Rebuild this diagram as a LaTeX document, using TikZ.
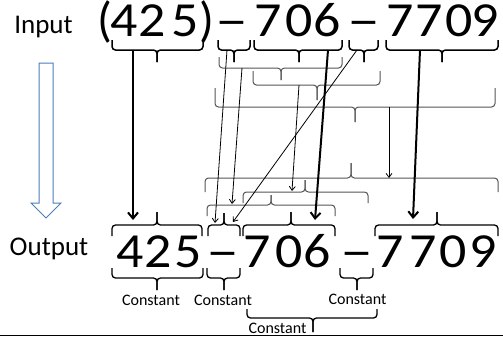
\documentclass[tikz,border=0pt]{standalone}
\usepackage{fontspec}
\setmainfont{Carlito}
\usepackage{graphicx}
\usetikzlibrary{arrows.meta}
\definecolor{brgray}{RGB}{85,85,85}
\definecolor{arrblue}{RGB}{74,126,187}
% brace: [style] x1 x2 yline yends xtip ytip
\newcommand{\pbr}[7][]{%
  \draw[rounded corners=3.5pt,#1] (#2,#5) -- (#2,#4) -- (#6,#4) -- (#6,#7);
  \draw[rounded corners=3.5pt,#1] (#6,#7) -- (#6,#4) -- (#3,#4) -- (#3,#5);}
\newcommand{\dg}[1]{\scalebox{1.1}[1]{#1}}
\newcommand{\mn}{\scalebox{1.35}[1]{–}}
\tikzset{
  bigch/.style={font=\fontsize{49}{49}\selectfont, inner sep=0pt, anchor=base},
  lbl/.style={font=\fontsize{27}{27}\selectfont, inner sep=0pt, anchor=base},
  cst/.style={font=\fontsize{16}{16}\selectfont, inner sep=0pt},
  topbr/.style={black, line width=1.5pt},
  midbr/.style={brgray, line width=1pt},
  outbr/.style={black, line width=1.3pt},
  thinarr/.style={black, line width=0.8pt, -{Straight Barb[length=4pt,width=6pt]}},
  thickarr/.style={black, line width=2pt, -{Straight Barb[length=6pt,width=10pt]}},
}
\begin{document}
\begin{tikzpicture}[x=1pt,y=-1pt]
\useasboundingbox (0,0) rectangle (503,341);
% labels
\node[lbl] (inp) at (43.5,33) {Input};
\node[lbl] (outp) at (49,255) {Output};
% top characters
\node[bigch] (t1) at (105,36) {(};
\node[bigch] (t2) at (124.5,36) {\dg{4}};
\node[bigch] (t3) at (152.5,36) {\dg{2}};
\node[bigch] (t4) at (185,36) {\dg{5}};
\node[bigch] (t5) at (206.5,36) {)};
\node[bigch] (t6) at (231.5,36) {\mn};
\node[bigch] (t7) at (268.5,36) {\dg{7}};
\node[bigch] (t8) at (299.5,36) {\dg{0}};
\node[bigch] (t9) at (327.5,36) {\dg{6}};
\node[bigch] (t10) at (363.5,36) {\mn};
\node[bigch] (t11) at (400,36) {\dg{7}};
\node[bigch] (t12) at (429,36) {\dg{7}};
\node[bigch] (t13) at (459.5,36) {\dg{0}};
\node[bigch] (t14) at (485.5,36) {\dg{9}};
% output characters
\node[bigch] (o1) at (130,267) {\dg{4}};
\node[bigch] (o2) at (158.5,267) {\dg{2}};
\node[bigch] (o3) at (188.5,267) {\dg{5}};
\node[bigch] (o4) at (222.5,267) {\mn};
\node[bigch] (o5) at (257.5,267) {\dg{7}};
\node[bigch] (o6) at (289.5,267) {\dg{0}};
\node[bigch] (o7) at (317.5,267) {\dg{6}};
\node[bigch] (o8) at (356.5,267) {\mn};
\node[bigch] (o9) at (390,267) {\dg{7}};
\node[bigch] (o10) at (423.5,267) {\dg{7}};
\node[bigch] (o11) at (453.5,267) {\dg{0}};
\node[bigch] (o12) at (483.5,267) {\dg{9}};
% top row braces
\pbr[topbr]{112}{203}{50}{40}{157}{62}
\pbr[topbr]{218}{250}{50}{40}{234}{62}
\pbr[topbr]{254}{342}{50}{40}{299}{62}
\pbr[topbr]{349}{378}{50}{40}{364}{62}
\pbr[topbr]{386}{498}{50}{40}{442}{62}
% middle braces
\pbr[midbr]{219}{342}{68}{57}{281}{80}
\pbr[midbr]{253}{380}{85}{71}{317}{100}
\pbr[midbr]{215}{495}{107}{88}{355}{122}
\pbr[midbr]{205}{498}{178}{192}{351}{163}
\pbr[midbr]{243}{368}{192}{203}{305}{180}
\pbr[midbr]{207}{335}{205}{216}{271}{195}
% output braces (above)
\pbr[outbr]{112}{202}{225}{236}{157}{212}
\pbr[outbr]{208}{240}{225}{236}{224}{213}
\pbr[outbr]{243}{335}{225}{236}{291}{212}
\pbr[outbr]{375}{498}{225}{236}{437}{212}
% output braces (below)
\pbr[outbr]{112}{203}{278}{268}{157}{290}
\pbr[outbr]{207}{240}{278}{268}{224}{290}
\pbr[outbr]{340}{373}{278}{268}{357}{290}
\pbr[outbr]{247}{377}{318}{309}{313}{332}
% constant labels
\node[cst] (c1) at (151,300) {Constant};
\node[cst] (c2) at (223,300) {Constant};
\node[cst] (c3) at (357.5,299) {Constant};
\node[cst] (c4) at (277.5,328) {Constant};
% arrow endpoints
\coordinate (s1) at (133,50);  \coordinate (e1) at (133,220);
\coordinate (s2) at (328,50);  \coordinate (e2) at (315,220);
\coordinate (s3) at (420,50);  \coordinate (e3) at (413,219);
\coordinate (s4) at (227,50);  \coordinate (e4) at (215,223);
\coordinate (s5) at (242,68);  \coordinate (e5) at (232,204);
\coordinate (s6) at (357,50);  \coordinate (e6) at (233,222);
\coordinate (s7) at (299,85);  \coordinate (e7) at (292,191);
\coordinate (s8) at (389,107); \coordinate (e8) at (389,178);
\draw[thickarr] (s1) -- (e1);
\draw[thickarr] (s2) -- (e2);
\draw[thickarr] (s3) -- (e3);
\draw[thinarr] (s4) -- (e4);
\draw[thinarr] (s5) -- (e5);
\draw[thinarr] (s6) -- (e6);
\draw[thinarr] (s7) -- (e7);
\draw[thinarr] (s8) -- (e8);
% hollow arrow
\draw[arrblue, line width=1pt, fill=white] (39,63) -- (53,63) -- (53,203) -- (61,203) -- (46,218) -- (31,203) -- (39,203) -- cycle;
% bottom rule
\draw[black, line width=1.5pt] (0,335.5) -- (503,335.5);
\end{tikzpicture}
\end{document}
